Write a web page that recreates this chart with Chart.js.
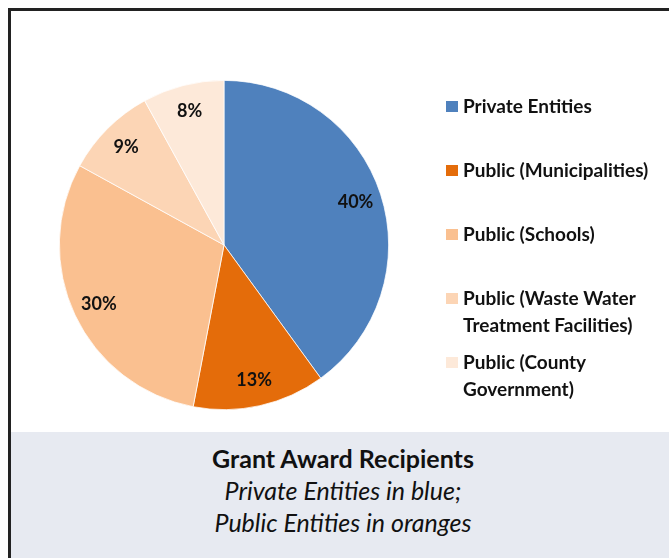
<!DOCTYPE html>
<html>
<head>
<meta charset="utf-8">
<script src="https://cdn.jsdelivr.net/npm/chart.js@4.4.1/dist/chart.umd.min.js"></script>
<style>
  html, body { margin: 0; padding: 0; width: 669px; height: 558px; overflow: hidden; background: #fff; }
  #caption { position: absolute; left: 11px; top: 432px; width: 700px; height: 140px; background: #E7EAF1;
    font-family: Lato, "Open Sans", sans-serif; color: #111; }
  #caption .t { position: absolute; left: 0; width: 664px; text-align: center; line-height: 25px; white-space: nowrap; }
  #c { position: absolute; left: 0; top: 0; }
  #frame { position: absolute; left: 8px; top: 8px; width: 700px; height: 600px; border: 3px solid #222; box-sizing: border-box; pointer-events: none; }
</style>
</head>
<body>
<div id="caption">
  <div class="t" style="top:14px;font-weight:700;font-size:25px;">Grant Award Recipients</div>
  <div class="t" style="top:46px;font-style:italic;font-size:25px;">Private Entities in blue;</div>
  <div class="t" style="top:78px;font-style:italic;font-size:25px;">Public Entities in oranges</div>
</div>
<canvas id="c" width="669" height="558"></canvas>
<div id="frame"></div>
<script>
const categories = ["Private Entities", "Public (Municipalities)", "Public (Schools)", "Public (Waste Water Treatment Facilities)", "Public (County Government)"];
const legendLines = [["Private Entities"], ["Public (Municipalities)"], ["Public (Schools)"], ["Public (Waste Water", "Treatment Facilities)"], ["Public (County", "Government)"]];
const shares = [40, 13, 30, 9, 8];
const colors = ["#4F81BD", "#E46C0A", "#FAC090", "#FCD5B5", "#FDE9D9"];

const labelPlugin = {
  id: 'sliceLabels',
  afterDatasetsDraw(chart) {
    const ctx = chart.ctx;
    const meta = chart.getDatasetMeta(0);
    ctx.save();
    ctx.font = '700 18px Lato, "Open Sans", sans-serif';
    ctx.fillStyle = '#111';
    ctx.textAlign = 'center';
    ctx.textBaseline = 'middle';
    meta.data.forEach((arc, i) => {
      const p = arc.getProps(['x', 'y', 'startAngle', 'endAngle', 'outerRadius'], true);
      const mid = (p.startAngle + p.endAngle) / 2;
      const r = p.outerRadius * 0.84;
      ctx.fillText(shares[i] + '%', p.x + Math.cos(mid) * r, p.y + Math.sin(mid) * r);
    });
    ctx.restore();
  }
};

const legendPlugin = {
  id: 'sideLegend',
  afterDraw(chart) {
    const ctx = chart.ctx;
    ctx.save();
    ctx.font = '700 19px Lato, "Open Sans", sans-serif';
    ctx.textBaseline = 'middle';
    ctx.textAlign = 'left';
    const x0 = 446, y0 = 107, step = 64, lh = 27;
    legendLines.forEach((lines, i) => {
      const y = y0 + i * step;
      ctx.fillStyle = colors[i];
      ctx.fillRect(x0, y - 6, 12, 11);
      ctx.fillStyle = '#111';
      lines.forEach((ln, j) => ctx.fillText(ln, x0 + 17, y + j * lh));
    });
    ctx.restore();
  }
};

new Chart(document.getElementById('c'), {
  type: 'pie',
  data: {
    labels: categories,
    datasets: [{ data: shares, backgroundColor: colors, borderColor: '#ffffff', borderWidth: 0.75 }]
  },
  options: {
    responsive: false,
    animation: false,
    layout: { padding: { left: 59, top: 80, right: 280, bottom: 148 } },
    plugins: { legend: { display: false }, tooltip: { enabled: false } }
  },
  plugins: [labelPlugin, legendPlugin]
});
</script>
</body>
</html>
